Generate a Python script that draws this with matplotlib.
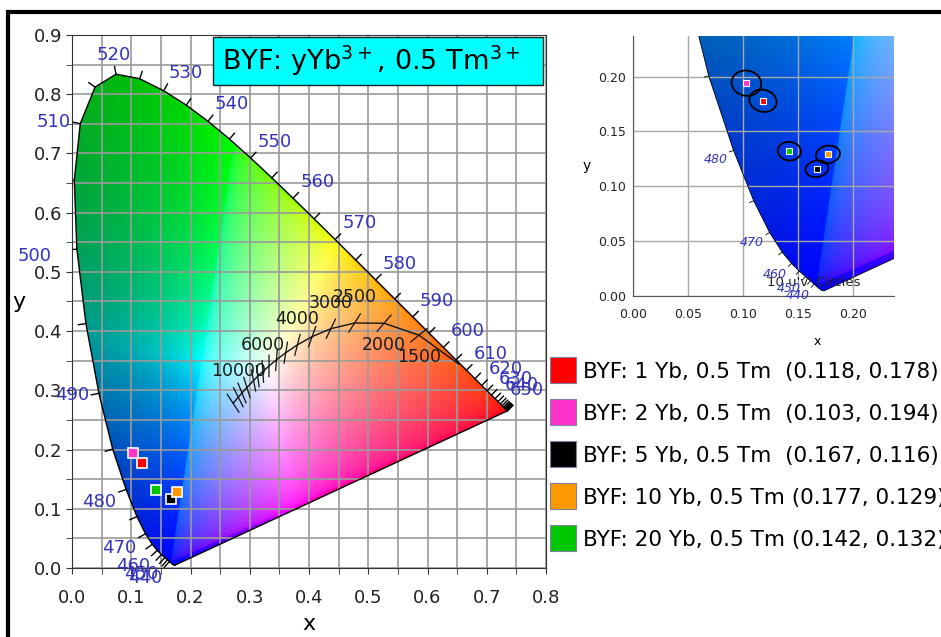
import numpy as np
import matplotlib
matplotlib.use('Agg')
import matplotlib.pyplot as plt
from matplotlib.path import Path
from matplotlib.patches import PathPatch, Rectangle, Ellipse
from matplotlib.lines import Line2D

# CIE 1931 2-degree spectral locus, 380-700 nm in 5 nm steps
wl = np.arange(380, 705, 5)
locus_x = [0.1741, 0.1740, 0.1738, 0.1736, 0.1733, 0.1730, 0.1726, 0.1721, 0.1714, 0.1703,
           0.1689, 0.1669, 0.1644, 0.1611, 0.1566, 0.1510, 0.1440, 0.1355, 0.1241, 0.1096,
           0.0913, 0.0687, 0.0454, 0.0235, 0.0082, 0.0039, 0.0139, 0.0389, 0.0743, 0.1142,
           0.1547, 0.1929, 0.2296, 0.2658, 0.3016, 0.3373, 0.3731, 0.4087, 0.4441, 0.4788,
           0.5125, 0.5448, 0.5752, 0.6029, 0.6270, 0.6482, 0.6658, 0.6801, 0.6915, 0.7006,
           0.7079, 0.7140, 0.7190, 0.7230, 0.7260, 0.7283, 0.7300, 0.7311, 0.7320, 0.7327,
           0.7334, 0.7340, 0.7344, 0.7346, 0.7347]
locus_y = [0.0050, 0.0050, 0.0049, 0.0049, 0.0048, 0.0048, 0.0048, 0.0048, 0.0051, 0.0058,
           0.0069, 0.0086, 0.0109, 0.0138, 0.0177, 0.0227, 0.0297, 0.0399, 0.0578, 0.0868,
           0.1327, 0.2007, 0.2950, 0.4127, 0.5384, 0.6548, 0.7502, 0.8120, 0.8338, 0.8262,
           0.8059, 0.7816, 0.7543, 0.7243, 0.6923, 0.6589, 0.6245, 0.5896, 0.5547, 0.5202,
           0.4866, 0.4544, 0.4242, 0.3965, 0.3725, 0.3514, 0.3340, 0.3197, 0.3083, 0.2993,
           0.2920, 0.2859, 0.2809, 0.2770, 0.2740, 0.2717, 0.2700, 0.2689, 0.2680, 0.2673,
           0.2666, 0.2660, 0.2656, 0.2654, 0.2653]
main_labels = list(range(440, 660, 10))
inset_labels = [440, 450, 460, 470, 480]
# the 500 nm label sits further out, a little below its tick
far_labels = [500]

# Planckian locus
planck_T = [1000, 1500, 2000, 2500, 3000, 3500, 4000, 4500, 5000, 5500, 6000,
            6500, 7000, 8000, 9000, 10000, 12000]
planck_x = [0.6528, 0.5857, 0.5267, 0.4770, 0.4369, 0.4053, 0.3805, 0.3608, 0.3451,
            0.3325, 0.3221, 0.3135, 0.3064, 0.2952, 0.2869, 0.2807, 0.2719]
planck_y = [0.3444, 0.3931, 0.4133, 0.4137, 0.4041, 0.3907, 0.3768, 0.3636, 0.3516,
            0.3411, 0.3318, 0.3237, 0.3166, 0.3048, 0.2956, 0.2884, 0.2782]
cct_above = [10000, 6000, 4000, 3000, 2500]
cct_below = [2000, 1500]

# samples
yb = [1, 2, 5, 10, 20]
sample_x = [0.118, 0.103, 0.167, 0.177, 0.142]
sample_y = [0.178, 0.194, 0.116, 0.129, 0.132]
sample_colors = ['#ff0000', '#ff33cc', '#000000', '#ff9900', '#00c800']
ell_w = [0.025, 0.027, 0.021, 0.022, 0.021]
ell_h = [0.020, 0.023, 0.015, 0.016, 0.017]
ell_angle = [-15, -10, 10, 10, -5]

# XYZ -> CIE RGB
M = np.array([[0.41847, -0.15866, -0.082835],
              [-0.091169, 0.25243, 0.015708],
              [0.0009209, -0.0025498, 0.17860]])


def chroma_image(x0, x1, y0, y1, n=500):
    gx, gy = np.meshgrid(np.linspace(x0, x1, n), np.linspace(y0, y1, n))
    yy = np.maximum(gy, 1e-4)
    xyz = np.stack([gx / yy, np.ones_like(gx), (1 - gx - gy) / yy], axis=-1)
    rgb = xyz @ M.T
    neg = np.clip(-rgb, 0, None).sum(-1, keepdims=True)
    pos = np.clip(rgb, 0, None)
    mx = pos.max(-1, keepdims=True) + 1e-9
    inside = (neg == 0)
    out = np.where(inside, (pos / mx) ** (1 / 2.0), pos / (mx + 0.7 * neg))
    return np.clip(out, 0, 1)


lx = np.array(locus_x)
ly = np.array(locus_y)
tx = np.gradient(lx)
ty = np.gradient(ly)
tn = np.hypot(tx, ty)
nx = -ty / tn
ny = tx / tn
locus_path = Path(np.column_stack([np.append(lx, lx[0]), np.append(ly, ly[0])]))


def draw_locus(ax, tick_len, gap, far_gap, labels, fs, style, lw):
    patch = PathPatch(locus_path, transform=ax.transData, fc='none', ec='none')
    ax.add_patch(patch)
    x0, x1 = ax.get_xlim()
    y0, y1 = ax.get_ylim()
    im = ax.imshow(chroma_image(x0, x1, y0, y1), origin='lower', extent=(x0, x1, y0, y1),
                   aspect='auto', interpolation='bilinear', zorder=0)
    im.set_clip_path(patch)
    ax.plot(np.append(lx, lx[0]), np.append(ly, ly[0]), color='black', lw=lw, zorder=2)
    for i, w in enumerate(wl):
        if w < 440:
            continue
        ax.plot([lx[i], lx[i] + nx[i] * tick_len], [ly[i], ly[i] + ny[i] * tick_len],
                color='black', lw=lw, zorder=2, clip_on=True)
        if w not in labels:
            continue
        if w in far_labels:
            px, py, ha, va = lx[i] - tick_len - far_gap, ly[i] - 0.012, 'right', 'center'
        else:
            px = lx[i] + nx[i] * (tick_len + gap)
            py = ly[i] + ny[i] * (tick_len + gap)
            ha = 'left' if nx[i] > 0.3 else ('right' if nx[i] < -0.3 else 'center')
            va = 'bottom' if ny[i] > 0.3 else ('top' if ny[i] < -0.3 else 'center')
        ax.text(px, py, str(w), color='#3333bb', fontsize=fs, ha=ha, va=va,
                style=style, zorder=4, clip_on=False)


fig = plt.figure(figsize=(9.41, 6.37), dpi=100)

# main diagram
ax = fig.add_axes([72 / 941, 1 - 568 / 637, 474 / 941, 533 / 637])
ax.set_xlim(0, 0.8)
ax.set_ylim(0, 0.9)
ax.set_xticks(np.arange(0, 0.81, 0.1))
ax.set_yticks(np.arange(0, 0.91, 0.1))
ax.set_xticks(np.arange(0, 0.81, 0.05), minor=True)
ax.set_yticks(np.arange(0, 0.91, 0.05), minor=True)
ax.xaxis.set_major_formatter(lambda v, p: f'{v:.1f}')
ax.yaxis.set_major_formatter(lambda v, p: f'{v:.1f}')
ax.grid(True, which='both', color='#9a9a9a', lw=1.2)
ax.tick_params(which='both', length=4, color='#333333', labelsize=13, labelcolor='#222222')
ax.tick_params(axis='x', pad=11)
ax.tick_params(axis='y', pad=3)
for s in ax.spines.values():
    s.set_color('#333333')
ax.set_xlabel('x', fontsize=16, labelpad=5)
ax.set_ylabel('y', fontsize=16, labelpad=11, rotation=0, va='center')

draw_locus(ax, 0.013, 0.004, 0.03, main_labels, 13, 'normal', 1.0)

# Planckian locus with isotherm marks
ax.plot(planck_x, planck_y, color='#111111', lw=1.0, zorder=2)
for T, px, py in zip(planck_T, planck_x, planck_y):
    if T == 1000:
        continue
    dx, dy = 0.332 - px, 0.1858 - py
    d = np.hypot(dx, dy)
    h = 0.018
    ax.plot([px - dx / d * h, px + dx / d * h], [py - dy / d * h, py + dy / d * h],
            color='#111111', lw=0.9, zorder=2)
    if T in cct_above:
        ax.text(px, py + 0.044, str(T), fontsize=12.5, color='#1a1a1a', ha='center',
                va='center', zorder=4)
    elif T in cct_below:
        ax.text(px, py - 0.037, str(T), fontsize=12.5, color='#1a1a1a', ha='center',
                va='center', zorder=4)

for sx, sy, c in zip(sample_x, sample_y, sample_colors):
    ax.plot(sx, sy, 's', ms=7.5, mfc=c, mec='white', mew=1.2, zorder=5)

# title box
ax.add_patch(Rectangle((0.2975, 0.906), 0.696, 0.09, transform=ax.transAxes,
                       fc='#00ffff', ec='#222222', lw=1.0, zorder=5))
ax.text(0.316, 0.951, r'BYF: yYb$^{3+}$, 0.5 Tm$^{3+}$', transform=ax.transAxes,
        fontsize=19.5, va='center', ha='left', zorder=6)

# inset zoom
axi = fig.add_axes([633 / 941, 1 - 296 / 637, 261 / 941, 260 / 637])
axi.set_xlim(0, 0.237)
axi.set_ylim(0, 0.237)
axi.set_xticks(np.arange(0, 0.21, 0.05))
axi.set_yticks(np.arange(0, 0.21, 0.05))
axi.xaxis.set_major_formatter(lambda v, p: f'{v:.2f}')
axi.yaxis.set_major_formatter(lambda v, p: f'{v:.2f}')
axi.grid(True, color='#a8a8a8', lw=1.0)
axi.tick_params(length=0, labelsize=9, labelcolor='#222222')
axi.tick_params(axis='x', pad=9)
axi.tick_params(axis='y', pad=5)
axi.spines['top'].set_visible(False)
axi.spines['right'].set_visible(False)
axi.spines['left'].set_color('#555555')
axi.spines['bottom'].set_color('#555555')
axi.set_xlabel('x', fontsize=9, labelpad=6)
axi.xaxis.set_label_coords(0.705, -0.15)
axi.set_ylabel('y', fontsize=10, labelpad=8, rotation=0, va='center')

draw_locus(axi, 0.004, 0.002, 0.002, inset_labels, 9, 'italic', 0.6)
axi.text(0.122, 0.012, "10 u'v' Circles", fontsize=9.5, color='#222222', ha='left',
         va='center', zorder=3)

for sx, sy, c, w, h, a in zip(sample_x, sample_y, sample_colors, ell_w, ell_h, ell_angle):
    axi.add_patch(Ellipse((sx, sy), w, h, angle=a, fc='none', ec='black', lw=1.3, zorder=4))
    axi.plot(sx, sy, 's', ms=4.5, mfc=c, mec='white', mew=0.8, zorder=5)

# legend
handles = []
for n, sx, sy, c in zip(yb, sample_x, sample_y, sample_colors):
    sep = '  ' if n < 10 else ' '
    lab = f'BYF: {n} Yb, 0.5 Tm{sep}({sx:.3f}, {sy:.3f})'
    handles.append(Line2D([], [], ls='none', marker='s', ms=19, mfc=c, mec='#8080a0',
                          mew=0.8, label=lab))
fig.legend(handles=handles, loc='upper left', bbox_to_anchor=(552 / 941, 1 - 362 / 637),
           frameon=False, fontsize=15.5, handlelength=1.0, handletextpad=0.45,
           borderpad=0, borderaxespad=0, labelspacing=1.02)

# outer frame (left and top edges visible)
fig.add_artist(Rectangle((8 / 941, -0.2), 1.5, 1.2 - 12 / 637, transform=fig.transFigure,
                         fill=False, ec='black', lw=3))

fig.savefig('out.png', dpi=100)
